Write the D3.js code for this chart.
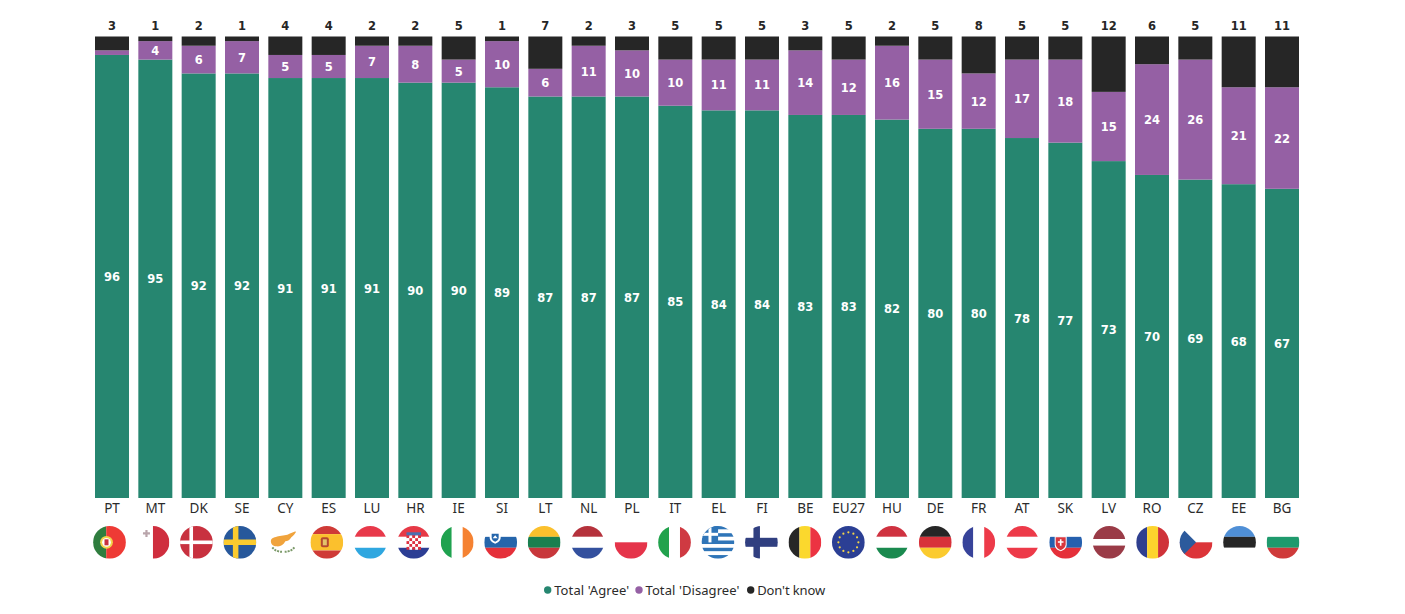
<!DOCTYPE html>
<html><head><meta charset="utf-8">
<script src="https://cdn.jsdelivr.net/npm/d3@7"></script>
<style>html,body{margin:0;padding:0;background:#fff}svg{display:block}</style>
</head><body><svg id="c" width="1405" height="614"></svg>
<script>
const countries=["PT","MT","DK","SE","CY","ES","LU","HR","IE","SI","LT","NL","PL","IT","EL","FI","BE","EU27","HU","DE","FR","AT","SK","LV","RO","CZ","EE","BG"];
const agree=[96,95,92,92,91,91,91,90,90,89,87,87,87,85,84,84,83,83,82,80,80,78,77,73,70,69,68,67];
const disagree=[1,4,6,7,5,5,7,8,5,10,6,11,10,10,11,11,14,12,16,15,12,17,18,15,24,26,21,22];
const dontKnow=[3,1,2,1,4,4,2,2,5,1,7,2,3,5,5,5,3,5,2,5,8,5,5,12,6,5,11,11];
const seriesKeys=["agree","disagree","dontKnow"];
const seriesNames=["Total 'Agree'","Total 'Disagree'","Don't know"];
const seriesColors=["#268670","#9560a4","#262626"];
const W="#ffffff";
// stripe direction, colours, relative widths
const flagStripes={
 PT:["v",["#2f7d3f","#ee3a35"],[2,3]],MT:["v",[W,"#cf2e3e"],[1,1]],DK:["h",["#c8313f"],[1]],SE:["h",["#27589b"],[1]],
 CY:["h",[W],[1]],ES:["h",["#cf3a37","#fbc02d","#cf3a37"],[1,2,1]],LU:["h",["#e8394a",W,"#2fa7e0"],[1,1,1]],
 HR:["h",["#e63946",W,"#2c3e94"],[1,1,1]],IE:["v",["#1fa24f",W,"#f58232"],[1,1,1]],SI:["h",[W,"#2565ab","#e5303a"],[1,1,1]],
 LT:["h",["#fbc02d","#1a7f4f","#c8373b"],[1,1,1]],NL:["h",["#b5323c",W,"#33509e"],[1,1,1]],PL:["h",[W,"#e5344a"],[1,1]],
 IT:["v",["#22a24d",W,"#cf3a42"],[1,1,1]],EL:["h",["#2f75b8",W,"#2f75b8",W,"#2f75b8",W,"#2f75b8",W,"#2f75b8"],[1,1,1,1,1,1,1,1,1]],
 FI:["h",[W],[1]],BE:["v",["#262626","#fbd82d","#ec3342"],[1,1,1]],EU27:["h",["#2b3f94"],[1]],HU:["h",["#cf3240",W,"#1a8a4f"],[1,1,1]],
 DE:["h",["#262626","#d8313a","#fbcb2f"],[1,1,1]],FR:["v",["#37439a",W,"#ed3a49"],[1,1,1]],AT:["h",["#ed3a49",W,"#ed3a49"],[1,1,1]],
 SK:["h",[W,"#2660ae","#e5303a"],[1,1,1]],LV:["h",["#9a3b47",W,"#9a3b47"],[2,1,2]],RO:["v",["#2f3f8f","#fdd42d","#cf3239"],[1,1,1]],
 CZ:["h",[W,"#dc3439"],[1,1]],EE:["h",["#4f8fd6","#262626",W],[1,1,1]],BG:["h",[W,"#1f9a6d","#cf3a3a"],[1,1,1]]
};

const rows=countries.map((c,i)=>({c,agree:agree[i],disagree:disagree[i],dontKnow:dontKnow[i]}));
const svg=d3.select("#c");
const font="'DejaVu Sans',sans-serif";
const x=d3.scaleBand().domain(countries).range([95,1299]).paddingInner(0.2154).paddingOuter(0);
const y=d3.scaleLinear().domain([0,100]).range([498,36.5]);
const color=d3.scaleOrdinal(seriesKeys,seriesColors);
const stack=d3.stack().keys(seriesKeys)(rows);

const layers=svg.selectAll("g.s").data(stack).join("g").attr("class","s").attr("fill",d=>color(d.key));
layers.selectAll("rect").data(d=>d).join("rect")
 .attr("x",d=>x(d.data.c)).attr("width",x.bandwidth())
 .attr("y",d=>y(d[1])).attr("height",d=>y(d[0])-y(d[1]));

const labels=svg.append("g").attr("font-family",font).attr("font-weight",700).attr("font-size",11.5).attr("text-anchor","middle");
stack.forEach(s=>{
 labels.selectAll(null).data(s.filter(d=>s.key!=="disagree"||d.data.disagree>1)).join("text")
  .attr("x",d=>x(d.data.c)+x.bandwidth()/2)
  .attr("y",d=>s.key==="dontKnow"?30:(y(d[0])+y(d[1]))/2+4.5)
  .attr("fill",s.key==="dontKnow"?"#262626":"#fff")
  .text(d=>d.data[s.key]);
});

const axis=svg.append("g").attr("transform","translate(0,498)").call(d3.axisBottom(x).tickSize(0).tickPadding(5));
axis.select(".domain").remove();
axis.selectAll("text").attr("font-family","'Noto Sans',sans-serif").attr("font-size",13.5).attr("fill","#2b2b2b");

// flags
const fx=d3.scalePoint().domain(countries).range([109.5,1283]);
const R=16.4, defs=svg.append("defs");
defs.append("clipPath").attr("id","flagClip").append("circle").attr("r",R);
const star=(g,cx,cy,r,fill)=>g.append("circle").attr("cx",cx).attr("cy",cy).attr("r",r).attr("fill",fill);
const extras={
 PT:g=>{star(g,-3,0,6.4,"#f3d44a");star(g,-3,0,4.4,W);g.append("rect").attr("x",-5).attr("y",-3).attr("width",4).attr("height",6).attr("fill","#c8313f");},
 MT:g=>{g.append("path").attr("d","M-10-10h2.4v-2.4h2.2v2.4h2.4v2.2h-2.4v2.4h-2.2v-2.4h-2.4z").attr("fill","#b9a5ab");},
 DK:g=>{g.append("rect").attr("x",-7).attr("y",-R).attr("width",3.6).attr("height",2*R).attr("fill",W);g.append("rect").attr("x",-R).attr("y",-1.8).attr("width",2*R).attr("height",3.6).attr("fill",W);},
 SE:g=>{g.append("rect").attr("x",-7).attr("y",-R).attr("width",5.5).attr("height",2*R).attr("fill","#fbcb2f");g.append("rect").attr("x",-R).attr("y",-2.8).attr("width",2*R).attr("height",5.5).attr("fill","#fbcb2f");},
 CY:g=>{g.append("path").attr("d","M-12.500-1C-12.500-5-8-5-5-6C-1-7 4-7 6-8.500C8.500-9.500 11-10.500 13.500-11.500C12-9 10-6.500 8-5C6-2 4-1 2-1C0 3-3 4.500-7 4C-10 4-12.500 2-12.500-1Z").attr("fill","#f0a33c");
   g.append("path").attr("d","M-11 5C-8 9-4 9.500-1 9.500M11 5C8 9 4 9.500 1 9.500").attr("fill","none").attr("stroke","#7c9a6a").attr("stroke-width",2).attr("stroke-dasharray","2 1");},
 ES:g=>{g.append("rect").attr("x",-6).attr("y",-5).attr("width",8).attr("height",10).attr("rx",2).attr("fill","#b5482f");g.append("rect").attr("x",-4).attr("y",-3).attr("width",4).attr("height",6).attr("fill","#e2c36a");},
 HR:g=>{const s=2.9;for(let i=0;i<5;i++)for(let j=0;j<5;j++)g.append("rect").attr("x",-7.25+i*s).attr("y",-7+j*s).attr("width",s).attr("height",s).attr("fill",(i+j)%2?W:"#dd3040");
   g.append("rect").attr("x",-7.25).attr("y",-10).attr("width",14.5).attr("height",3).attr("fill","#4a6fb0");},
 SI:g=>{g.append("path").attr("d","M-11-10.500h11v6c0 3-3 5-5.500 6c-2.500-1-5.500-3-5.500-6z").attr("fill",W);g.append("path").attr("d","M-9-8.500h7v4c0 2-1.800 3.300-3.500 4c-1.700-.7-3.500-2-3.500-4z").attr("fill","#2565ab");g.append("path").attr("d","M-8-4l2.500-3l2.500 3z").attr("fill",W);},
 EL:g=>{g.append("rect").attr("x",-R).attr("y",-R).attr("width",16.5).attr("height",16.5).attr("fill","#2f75b8");g.append("rect").attr("x",-9.5).attr("y",-R).attr("width",3).attr("height",16.5).attr("fill",W);g.append("rect").attr("x",-R).attr("y",-9.500).attr("width",16.5).attr("height",3).attr("fill",W);},
 FI:g=>{g.append("rect").attr("x",-8).attr("y",-R).attr("width",6.5).attr("height",2*R).attr("fill","#303f80");g.append("rect").attr("x",-R).attr("y",-4.5).attr("width",2*R).attr("height",9).attr("fill","#303f80");},
 EU27:g=>{d3.range(12).forEach(i=>{const a=i/12*2*Math.PI;star(g,10*Math.cos(a),10*Math.sin(a),1.1,"#f3d44a");});},
 SK:g=>{g.append("path").attr("d","M-11-6h12v8c0 4-3 6-6 7c-3-1-6-3-6-7z").attr("fill",W);g.append("path").attr("d","M-10-5h10v7c0 3-2.500 5-5 6c-2.500-1-5-3-5-6z").attr("fill","#d9363e");g.append("path").attr("d","M-5.800-3h1.600v2h2v1.500h-2v3h-1.600v-3h-2v-1.500h2z").attr("fill",W);},
 CZ:g=>{g.append("path").attr("d","M-17-17L0 0L-17 17Z").attr("fill","#2c5a9c");}
};
const flags=svg.selectAll("g.flag").data(countries).join("g").attr("class","flag")
 .attr("transform",d=>`translate(${fx(d)},542.3)`).attr("clip-path","url(#flagClip)");
flags.each(function(c){
 const g=d3.select(this),[dir,cols,wts]=flagStripes[c],total=d3.sum(wts),sc=d3.scaleLinear().domain([0,total]).range([-R,R]);
 let acc=0;
 cols.forEach((col,i)=>{
  const a=sc(acc),b=sc(acc+wts[i]);acc+=wts[i];
  g.append("rect").attr("x",dir==="v"?a:-R).attr("y",dir==="v"?-R:a)
   .attr("width",dir==="v"?b-a:2*R).attr("height",dir==="v"?2*R:b-a).attr("fill",col);
 });
 if(extras[c])extras[c](g);
});

// legend
const legendX=[547.7,639,750.7];
const legend=svg.append("g").selectAll("g").data(seriesNames).join("g").attr("transform",(d,i)=>`translate(${legendX[i]},590)`);
legend.append("circle").attr("r",3.7).attr("fill",(d,i)=>seriesColors[i]);
legend.append("text").attr("x",6.5).attr("y",4.5).attr("font-family","'Noto Sans',sans-serif").attr("font-size",13).attr("textLength",(d,i)=>[75,94,68][i]).attr("lengthAdjust","spacing").attr("fill","#2b2b2b").text(d=>d);
</script></body></html>
